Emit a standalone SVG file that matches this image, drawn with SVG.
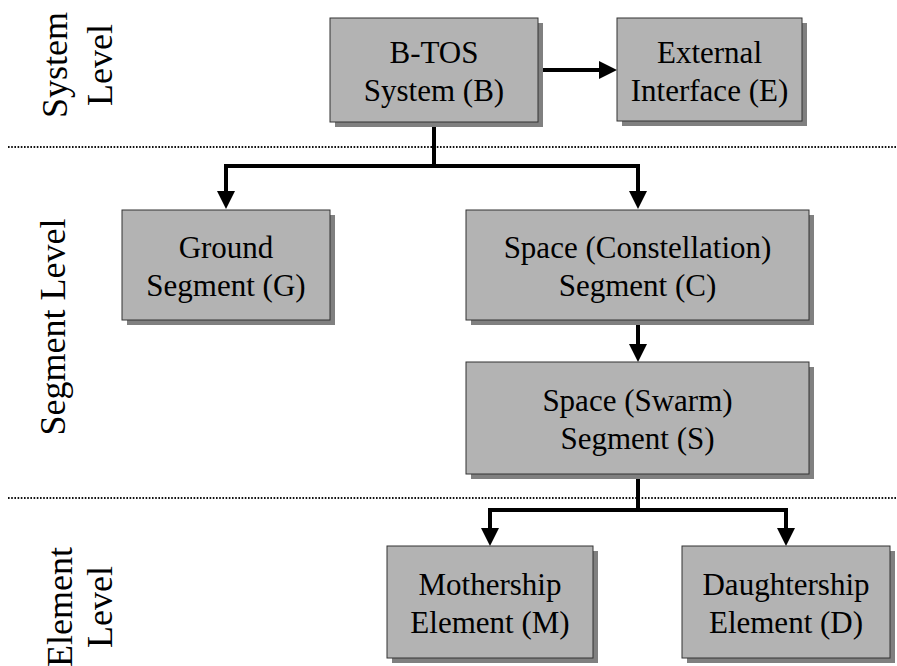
<svg xmlns="http://www.w3.org/2000/svg" width="897" height="666" viewBox="0 0 897 666">
<style>
.box{fill:#b3b3b3;stroke:#333333;stroke-width:1}
.shadow{fill:#808080}
.t{font-family:"Liberation Serif","Times New Roman",serif;font-size:31px;fill:#000;text-anchor:middle}
.side{font-family:"Liberation Serif","Times New Roman",serif;font-size:36px;fill:#000;text-anchor:middle}
.conn{fill:none;stroke:#000;stroke-width:4;marker-end:url(#arr)}
.plain{fill:none;stroke:#000;stroke-width:4}
.dot{stroke:#111;stroke-width:2;stroke-dasharray:1.6 1.6}
</style>
<defs>
<marker id="arr" markerUnits="userSpaceOnUse" markerWidth="18" markerHeight="18" refX="8" refY="9" orient="auto">
<path d="M0,0 L18,9 L0,18 z" fill="#000"/>
</marker>
</defs>
<g id="separators">
<line class="dot" x1="8" y1="147" x2="897" y2="147"/>
<line class="dot" x1="8" y1="498" x2="897" y2="498"/>
</g>
<g id="level-labels">
<text class="side" transform="translate(67,65) rotate(-90)">System</text>
<text class="side" transform="translate(112,65) rotate(-90)">Level</text>
<text class="side" transform="translate(65,327) rotate(-90)">Segment Level</text>
<text class="side" transform="translate(72,607) rotate(-90)">Element</text>
<text class="side" transform="translate(112,607) rotate(-90)">Level</text>
</g>
<g id="connectors">
<line class="conn" x1="538" y1="70" x2="607" y2="70"/>
<line class="plain" x1="434" y1="122" x2="434" y2="166"/>
<polyline class="conn" points="434,166 226,166 226,199"/>
<polyline class="conn" points="434,166 638,166 638,199"/>
<line class="conn" x1="638" y1="320" x2="638" y2="352"/>
<line class="plain" x1="638" y1="474" x2="638" y2="510"/>
<polyline class="conn" points="638,510 490,510 490,536"/>
<polyline class="conn" points="638,510 786,510 786,536"/>
</g>
<g id="node-B">
<rect class="shadow" x="335" y="23" width="208" height="104"/>
<rect class="box" x="330" y="18" width="208" height="104"/>
<text class="t" x="434" y="63">B-TOS</text>
<text class="t" x="434" y="101">System (B)</text>
</g>
<g id="node-E">
<rect class="shadow" x="622" y="23" width="185" height="103"/>
<rect class="box" x="617" y="18" width="185" height="103"/>
<text class="t" x="709.5" y="63">External</text>
<text class="t" x="709.5" y="101">Interface (E)</text>
</g>
<g id="node-G">
<rect class="shadow" x="127" y="215" width="208" height="110"/>
<rect class="box" x="122" y="210" width="208" height="110"/>
<text class="t" x="226" y="258">Ground</text>
<text class="t" x="226" y="296">Segment (G)</text>
</g>
<g id="node-C">
<rect class="shadow" x="471" y="215" width="343" height="110"/>
<rect class="box" x="466" y="210" width="343" height="110"/>
<text class="t" x="637.5" y="258">Space (Constellation)</text>
<text class="t" x="637.5" y="296">Segment (C)</text>
</g>
<g id="node-S">
<rect class="shadow" x="471" y="367" width="343" height="112"/>
<rect class="box" x="466" y="362" width="343" height="112"/>
<text class="t" x="637.5" y="411">Space (Swarm)</text>
<text class="t" x="637.5" y="449">Segment (S)</text>
</g>
<g id="node-M">
<rect class="shadow" x="392" y="551" width="206" height="112"/>
<rect class="box" x="387" y="546" width="206" height="112"/>
<text class="t" x="490" y="595">Mothership</text>
<text class="t" x="490" y="633">Element (M)</text>
</g>
<g id="node-D">
<rect class="shadow" x="687" y="551" width="208" height="112"/>
<rect class="box" x="682" y="546" width="208" height="112"/>
<text class="t" x="786" y="595">Daughtership</text>
<text class="t" x="786" y="633">Element (D)</text>
</g>
</svg>
